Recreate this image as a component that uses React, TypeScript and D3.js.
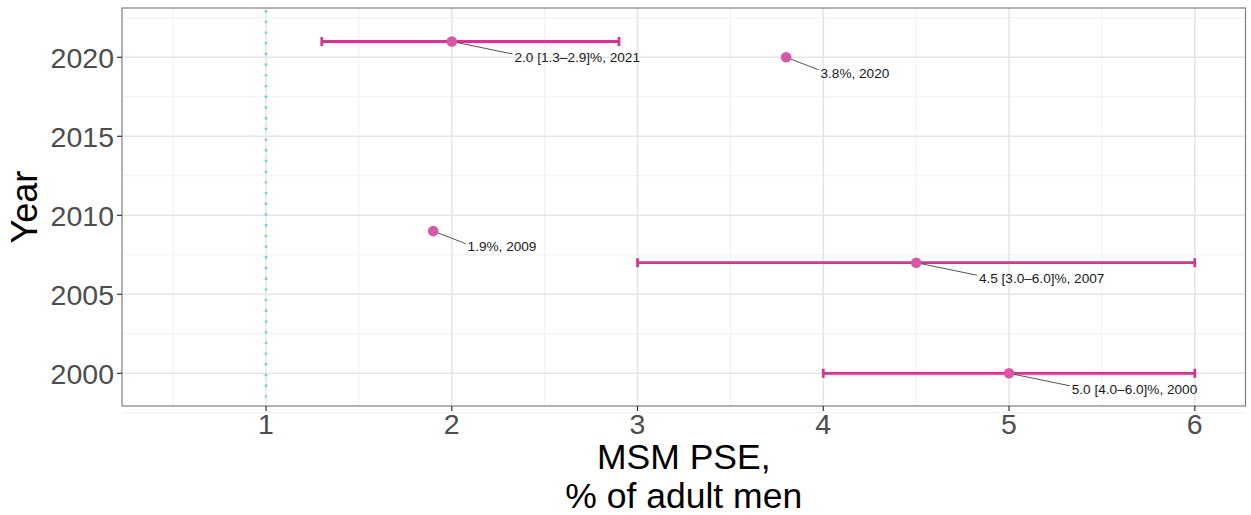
import React from 'react';
import { scaleLinear, range } from 'd3';

const width = 1251;
const height = 515;
const panel = { left: 122, right: 1245.5, top: 8, bottom: 406 };

// data
const years = [2021, 2020, 2009, 2007, 2000];
const estimates = [2.0, 3.8, 1.9, 4.5, 5.0];
const lowers = [1.3, null, null, 3.0, 4.0];
const uppers = [2.9, null, null, 6.0, 6.0];
const labels = [
  '2.0 [1.3–2.9]%, 2021',
  '3.8%, 2020',
  '1.9%, 2009',
  '4.5 [3.0–6.0]%, 2007',
  '5.0 [4.0–6.0]%, 2000',
];
const xTicks = [1, 2, 3, 4, 5, 6];
const yTicks = [2000, 2005, 2010, 2015, 2020];
const refLine = 1;

const xScale = scaleLinear().domain([0.2246, 6.273]).range([panel.left, panel.right]);
const yScale = scaleLinear().domain([1997.93, 2023.12]).range([panel.bottom, panel.top]);

const barColor = '#d4368f';
const pointColor = '#d659a7';
const labelFont = '13.6px "Liberation Sans", Arial, sans-serif';

let ctx: CanvasRenderingContext2D | null = null;
const measure = (s: string) => {
  if (!ctx) ctx = document.createElement('canvas').getContext('2d');
  if (!ctx) return s.length * 6.5;
  ctx.font = labelFont;
  return ctx.measureText(s).width;
};

const App = () => {
  const xMinor = range(0.5, 6.5, 1);
  const yMinor = range(1997.5, 2023, 5);
  return (
    <svg
      width={width}
      height={height}
      style={{ position: 'absolute', left: 0, top: 0, display: 'block' }}
      fontFamily='"Liberation Sans", Arial, sans-serif'
    >
      <rect x={0} y={0} width={width} height={height} fill="#fff" />
      {/* grid */}
      <g>
        {xMinor.map((v) => (
          <line key={'xm' + v} x1={xScale(v)} x2={xScale(v)} y1={panel.top} y2={panel.bottom} stroke="#f0f0f0" strokeWidth={1} />
        ))}
        {yMinor.map((v) => (
          <line key={'ym' + v} x1={panel.left} x2={panel.right} y1={yScale(v)} y2={yScale(v)} stroke="#f0f0f0" strokeWidth={1} />
        ))}
        {xTicks.map((v) => (
          <line key={'x' + v} x1={xScale(v)} x2={xScale(v)} y1={panel.top} y2={panel.bottom} stroke="#e6e6e6" strokeWidth={1.6} />
        ))}
        {yTicks.map((v) => (
          <line key={'y' + v} x1={panel.left} x2={panel.right} y1={yScale(v)} y2={yScale(v)} stroke="#e6e6e6" strokeWidth={1.6} />
        ))}
      </g>
      {/* reference line */}
      <line
        x1={xScale(refLine)}
        x2={xScale(refLine)}
        y1={panel.top + 2}
        y2={panel.bottom}
        stroke="#72cfe0"
        strokeWidth={2.6}
        strokeDasharray="2.4 8.3"
      />
      {/* error bars */}
      {years.map((yr, i) => {
        const lo = lowers[i];
        const hi = uppers[i];
        if (lo == null || hi == null) return null;
        const y = yScale(yr);
        return (
          <g key={'eb' + yr} stroke={barColor} strokeWidth={2.8}>
            <line x1={xScale(lo)} x2={xScale(hi)} y1={y} y2={y} />
            <line x1={xScale(lo)} x2={xScale(lo)} y1={y - 4.5} y2={y + 4.5} />
            <line x1={xScale(hi)} x2={xScale(hi)} y1={y - 4.5} y2={y + 4.5} />
          </g>
        );
      })}
      {/* labels with segments */}
      {years.map((yr, i) => {
        const cx = xScale(estimates[i]);
        const cy = yScale(yr);
        const w = measure(labels[i]);
        const tx = cx + w / 2;
        const ty = cy + 15.5;
        return (
          <g key={'lb' + yr}>
            <line x1={cx} y1={cy} x2={tx - 2} y2={ty - 3} stroke="#555" strokeWidth={1} />
            <text x={tx} y={ty} dy="0.35em" fontSize={13.6} fill="#1a1a1a">
              {labels[i]}
            </text>
          </g>
        );
      })}
      {/* points */}
      {years.map((yr, i) => (
        <circle key={'pt' + yr} cx={xScale(estimates[i])} cy={yScale(yr)} r={5.3} fill={pointColor} />
      ))}
      {/* panel border */}
      <rect
        x={panel.left}
        y={panel.top}
        width={panel.right - panel.left}
        height={panel.bottom - panel.top}
        fill="none"
        stroke="#7f7f7f"
        strokeWidth={1.2}
      />
      {/* x axis */}
      {xTicks.map((v) => (
        <g key={'xt' + v}>
          <line x1={xScale(v)} x2={xScale(v)} y1={panel.bottom} y2={panel.bottom + 5} stroke="#333" strokeWidth={1.2} />
          <text x={xScale(v)} y={panel.bottom + 27.5} textAnchor="middle" fontSize={28.5} fill="#4d4d4d">
            {v}
          </text>
        </g>
      ))}
      {/* y axis */}
      {yTicks.map((v) => (
        <g key={'yt' + v}>
          <line x1={panel.left - 5} x2={panel.left} y1={yScale(v)} y2={yScale(v)} stroke="#333" strokeWidth={1.2} />
          <text x={panel.left - 8} y={yScale(v)} dy="0.36em" textAnchor="end" fontSize={28.5} fill="#4d4d4d">
            {v}
          </text>
        </g>
      ))}
      {/* axis titles */}
      <text x={(panel.left + panel.right) / 2} y={468.5} textAnchor="middle" fontSize={35.5} fill="#000">
        MSM PSE,
      </text>
      <text x={(panel.left + panel.right) / 2} y={507.5} textAnchor="middle" fontSize={35.5} fill="#000">
        % of adult men
      </text>
      <text
        transform={`translate(37,${(panel.top + panel.bottom) / 2}) rotate(-90)`}
        textAnchor="middle"
        fontSize={36}
        fill="#000"
      >
        Year
      </text>
    </svg>
  );
};

export default App;
